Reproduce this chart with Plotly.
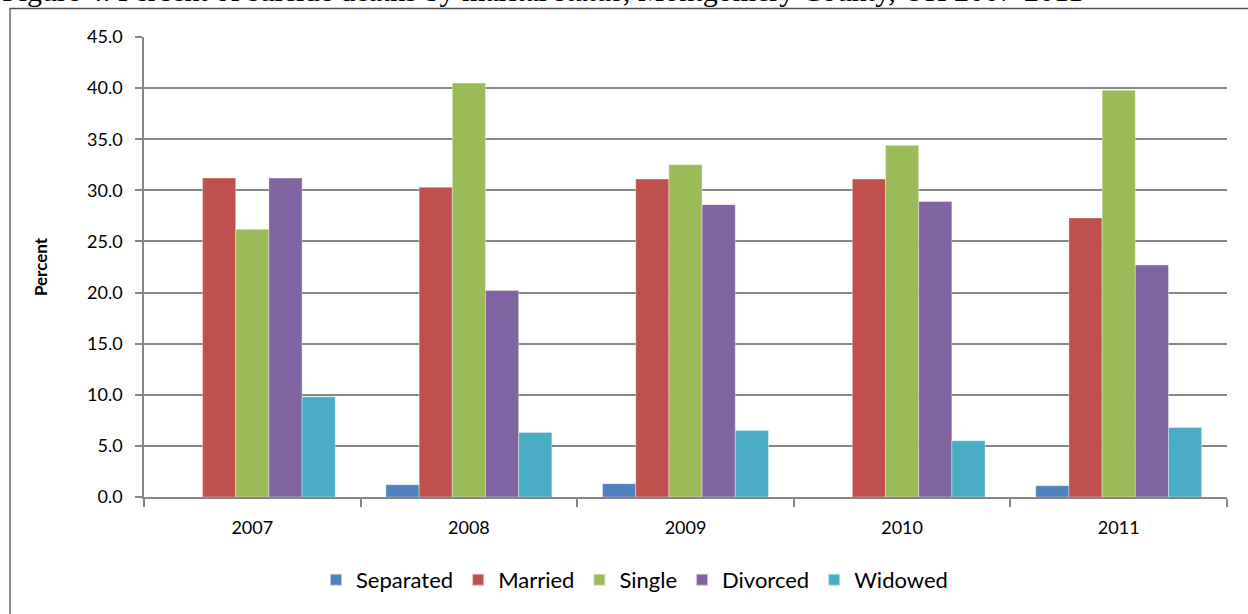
import plotly.graph_objects as go

years = ["2007", "2008", "2009", "2010", "2011"]
separated = [0.0, 1.2, 1.3, 0.0, 1.1]
married = [31.2, 30.3, 31.1, 31.1, 27.3]
single = [26.2, 40.5, 32.5, 34.4, 39.8]
divorced = [31.2, 20.2, 28.6, 28.9, 22.7]
widowed = [9.8, 6.3, 6.5, 5.5, 6.8]

series = [
    ("Separated", separated, "#4F81BD"),
    ("Married", married, "#C0504D"),
    ("Single", single, "#9BBB59"),
    ("Divorced", divorced, "#8064A2"),
    ("Widowed", widowed, "#4BACC6"),
]

title_text = "Figure 4. Percent of suicide deaths by marital status, Montgomery County, OH 2007-2011"

W, H = 1248, 614
L, R, T, B = 144, 21, 37, 117
pw, ph = W - L - R, H - T - B

def px(x):
    return (x - L) / pw

def py(y):
    return (H - B - y) / ph

fig = go.Figure()
for name, vals, col in series:
    fig.add_trace(go.Bar(
        x=years, y=vals, name=name,
        marker=dict(color=col, line=dict(color="rgba(255,255,255,0.6)", width=0.6)),
    ))

font = "Lato, 'Open Sans', sans-serif"
axcol = "#868686"
fig.update_layout(
    width=W, height=H,
    margin=dict(l=L, r=R, t=T, b=B, pad=0),
    paper_bgcolor="white", plot_bgcolor="white",
    barmode="group", bargap=0.234, bargroupgap=0,
    font=dict(family=font, size=18, color="#000000"),
    showlegend=True,
    legend=dict(orientation="h", x=px(316), xanchor="left", y=py(580), yanchor="middle",
                font=dict(size=22), itemwidth=30, traceorder="normal",
                itemsizing="constant"),
    xaxis=dict(type="category", tickson="boundaries", ticks="outside", ticklen=8,
               tickcolor=axcol, tickwidth=1.5, showline=True, linecolor=axcol,
               linewidth=1.5, showgrid=False, tickfont=dict(size=18), ticklabelstandoff=14),
    yaxis=dict(range=[0, 45], dtick=5, tickformat=".1f", ticks="outside", ticklen=7,
               tickcolor=axcol, tickwidth=1.5, showline=True, linecolor=axcol,
               linewidth=1.5, showgrid=True, gridcolor=axcol, gridwidth=1.5,
               zeroline=False, tickfont=dict(size=18), ticklabelstandoff=9,
               title=dict(text="<b>Percent</b>", font=dict(size=17), standoff=35)),
    shapes=[dict(type="rect", xref="paper", yref="paper",
                 x0=px(10), x1=px(1300), y0=py(700), y1=py(8.5),
                 line=dict(color="#505050", width=1.3), fillcolor="rgba(0,0,0,0)", layer="below")],
    annotations=[dict(text=title_text,
                      xref="paper", yref="paper", x=px(0), y=py(-9.5), xanchor="left", yanchor="middle",
                      showarrow=False, font=dict(family="'Liberation Serif', serif", size=30,
                                                 color="#000000"))],
)

fig.write_html("out.html", config={"displayModeBar": False},
               post_script="document.body.style.margin='0';document.body.style.overflow='hidden';")
